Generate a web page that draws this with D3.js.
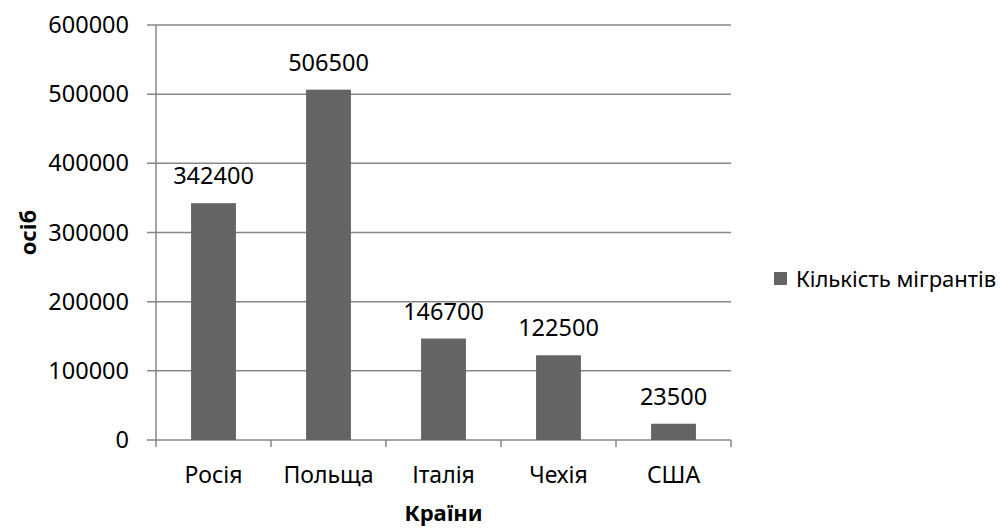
<html>
<head>
<meta charset='UTF-8'>
<title>Кількість мігрантів</title>
<script src='https://d3js.org/d3.v7.min.js'></script>
<style>
    body { margin: 0; background: #fff; }
    text { font-family: 'Noto Sans', sans-serif; fill: #000; }
</style>
</head>

<body>
    <div id='chart'></div>

    <script type='text/javascript'>
        var countries = ['Росія', 'Польща', 'Італія', 'Чехія', 'США'];
        var migrants = [342400, 506500, 146700, 122500, 23500];
        var yTicks = [0, 100000, 200000, 300000, 400000, 500000, 600000];
        var seriesName = 'Кількість мігрантів';

        var margin = {top: 25, right: 272, bottom: 89, left: 156},
            width = 1003 - margin.left - margin.right,
            height = 529 - margin.top - margin.bottom;

        var barColor = '#646464',
            gridColor = '#878787';

        var svg = d3.select('#chart').append('svg')
                    .attr('width', 1003)
                    .attr('height', 529);

        var g = svg.append('g')
                   .attr('transform', 'translate(' + margin.left + ',' + margin.top + ')');

        var x = d3.scaleBand().domain(countries).range([0, width]).padding(0),
            y = d3.scaleLinear().domain([0, 600000]).range([height, 0]);

        var barWidth = x.bandwidth() * 0.39;

        // gridlines with the little tick on the left
        g.selectAll('.grid')
         .data(yTicks)
         .enter().append('line')
            .attr('class', 'grid')
            .attr('x1', -9)
            .attr('x2', width)
            .attr('y1', function(d) { return y(d); })
            .attr('y2', function(d) { return y(d); })
            .attr('stroke', gridColor)
            .attr('stroke-width', 1.5);

        // y axis
        var yAxis = g.append('g')
                     .call(d3.axisLeft(y).tickValues(yTicks).tickSize(0).tickPadding(27).tickFormat(d3.format('d')));
        yAxis.select('.domain').remove();
        yAxis.selectAll('text').style('font-size', '23.5px');

        g.append('line')
         .attr('x1', 0).attr('x2', 0)
         .attr('y1', 0).attr('y2', height)
         .attr('stroke', gridColor)
         .attr('stroke-width', 1.5);

        // x axis: ticks sit on the category borders
        var borders = countries.map(function(d) { return x(d); }).concat([width]);
        g.selectAll('.xtick')
         .data(borders)
         .enter().append('line')
            .attr('x1', function(d) { return d; })
            .attr('x2', function(d) { return d; })
            .attr('y1', height)
            .attr('y2', height + 7)
            .attr('stroke', gridColor)
            .attr('stroke-width', 1.5);

        g.selectAll('.xlabel')
         .data(countries)
         .enter().append('text')
            .attr('x', function(d) { return x(d) + x.bandwidth() / 2; })
            .attr('y', height + 43)
            .attr('text-anchor', 'middle')
            .style('font-size', '23px')
            .text(function(d) { return d; });

        // bars
        g.selectAll('.bar')
         .data(migrants)
         .enter().append('rect')
            .attr('class', 'bar')
            .attr('x', function(d, i) { return x(countries[i]) + (x.bandwidth() - barWidth) / 2; })
            .attr('y', function(d) { return y(d); })
            .attr('width', barWidth)
            .attr('height', function(d) { return height - y(d); })
            .attr('fill', barColor);

        // value labels
        g.selectAll('.value')
         .data(migrants)
         .enter().append('text')
            .attr('x', function(d, i) { return x(countries[i]) + x.bandwidth() / 2; })
            .attr('y', function(d) { return y(d) - 19; })
            .attr('text-anchor', 'middle')
            .style('font-size', '23.5px')
            .text(function(d) { return d; });

        // axis titles
        g.append('text')
         .attr('x', width / 2)
         .attr('y', height + 81)
         .attr('text-anchor', 'middle')
         .style('font-size', '22px')
         .style('font-weight', 'bold')
         .text('Країни');

        g.append('text')
         .attr('transform', 'translate(' + (-120) + ',' + (height / 2) + ') rotate(-90)')
         .attr('text-anchor', 'middle')
         .style('font-size', '22px')
         .style('font-weight', 'bold')
         .text('осіб');

        // legend
        var legend = svg.append('g')
                        .attr('transform', 'translate(774,272)');
        legend.append('rect')
              .attr('width', 13)
              .attr('height', 13)
              .attr('fill', barColor);
        legend.append('text')
              .attr('x', 22)
              .attr('y', 7)
              .attr('dy', '0.35em')
              .style('font-size', '22px')
              .text(seriesName);
    </script>
</body>
</html>
